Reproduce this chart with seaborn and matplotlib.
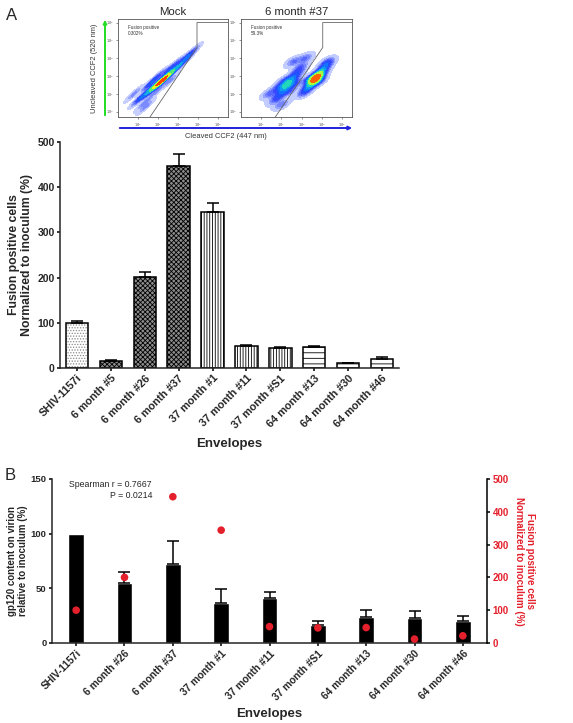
import numpy as np
import pandas as pd
import matplotlib
matplotlib.use("Agg")
import matplotlib.pyplot as plt
import seaborn as sns
from matplotlib.patches import FancyArrowPatch
from matplotlib.colors import LinearSegmentedColormap, to_rgba

# ---------------- data ----------------
envelopes_a = ["SHIV-1157i", "6 month #5", "6 month #26", "6 month #37", "37 month #1",
               "37 month #11", "37 month #S1", "64 month #13", "64 month #30", "64 month #46"]
fusion_mean = [100, 15, 201, 446, 345, 49, 44, 46, 10, 21]
fusion_err = [5, 2, 11, 27, 20, 2, 2, 2, 1, 3]

envelopes_b = ["SHIV-1157i", "6 month #26", "6 month #37", "37 month #1", "37 month #11",
               "37 month #S1", "64 month #13", "64 month #30", "64 month #46"]
gp120_mean = [100, 55, 72, 37, 41, 16.5, 24, 23, 20]
gp120_err = [0, 10, 21, 12, 6, 3.5, 6, 6, 5]
fusion_b = [100, 200, 446, 344, 50, 46, 47, 12, 22]

# flow cytometry population anchors (log10 decades)
mock_x = [1.0, 1.2, 1.5, 1.6, 1.8, 1.9, 2.0, 2.1, 2.15, 2.2, 2.25, 2.3, 2.4, 2.5, 2.7, 2.9,
          3.2, 3.5, 3.75, 1.5, 1.9, 2.4, 2.6, 1.3, 2.0, 2.9, 3.3, 0.8, 1.4, 1.7, 2.6]
mock_y = [0.95, 1.15, 1.3, 1.55, 1.65, 1.8, 1.9, 1.95, 2.0, 2.0, 2.05, 2.1, 2.2, 2.35, 2.5, 2.7,
          3.0, 3.35, 3.7, 1.75, 1.45, 2.55, 2.05, 0.75, 2.3, 3.0, 3.25, 1.3, 0.6, 1.95, 2.6]
m37_x = [1.7, 1.9, 2.1, 2.25, 2.4, 2.6, 2.8, 2.95, 1.9, 2.4, 2.2, 2.7,
         3.1, 3.3, 3.45, 3.6, 3.65, 3.7, 3.72, 3.75, 3.8, 3.9, 4.05, 4.2, 4.3, 3.4, 3.85,
         2.6, 3.2, 1.4, 2.0]
m37_y = [0.95, 1.25, 1.55, 1.75, 1.95, 2.2, 2.5, 2.8, 1.7, 1.45, 2.05, 1.9,
         1.35, 1.6, 1.8, 2.0, 2.1, 2.15, 2.2, 2.25, 2.35, 2.45, 2.65, 2.9, 3.1, 2.1, 2.0,
         3.1, 3.3, 1.3, 0.7]
gate_x = [1.6, 3.95, 3.95, 5.5]
gate_y = [0.0, 3.9, 5.3, 5.3]
gate2_x = [1.7, 4.05, 4.05, 5.5]

# ---------------- style ----------------
sns.set_theme(style="ticks")
plt.rcParams["font.family"] = ["Liberation Sans", "DejaVu Sans"]
plt.rcParams["hatch.linewidth"] = 0.6
plt.rcParams["axes.linewidth"] = 1.1

W, H = 573, 723
fig = plt.figure(figsize=(W / 100, H / 100), dpi=100)


def box(x0, y0, x1, y1):
    return [x0 / W, 1 - y1 / H, (x1 - x0) / W, (y1 - y0) / H]


red = "#e3202b"
flow_cmap = LinearSegmentedColormap.from_list(
    "flow", ["#dfe5ff", "#7d8cff", "#2a3cff", "#0a8cff", "#1fd6c0", "#60f060", "#d8ff30",
             "#ffd000", "#ff4a00", "#c80000"])


def flow(ax, xs, ys, gx, title, pct, bw):
    sns.kdeplot(x=xs, y=ys, ax=ax, fill=True, cmap=flow_cmap, levels=12, thresh=0.02,
                bw_adjust=bw)
    ax.plot(gx, gate_y, color="#666666", lw=0.6)
    ax.set_xlim(0, 5.5)
    ax.set_ylim(0, 5.5)
    ax.set_xticks([1, 2, 3, 4, 5])
    ax.set_yticks([0.3, 1.3, 2.3, 3.3, 4.3, 5.3])
    ax.set_xticklabels([r"$10^1$", r"$10^2$", r"$10^3$", r"$10^4$", r"$10^5$"], fontsize=2.5)
    ax.set_yticklabels([r"$10^0$", r"$10^1$", r"$10^2$", r"$10^3$", r"$10^4$", r"$10^5$"], fontsize=2.5)
    ax.tick_params(length=1.5, width=0.4, pad=1.5, colors="#444444")
    for s in ax.spines.values():
        s.set_linewidth(0.6)
        s.set_color("#555555")
    ax.set_xlabel("")
    ax.set_ylabel("")
    ax.text(0.5, 5.15, "Fusion positive\n" + pct, fontsize=3.3, va="top", ha="left",
            color="#333333", linespacing=1.2)
    ax.set_title(title, fontsize=8.2, pad=3)


ax_m = fig.add_axes(box(118, 19, 228, 117))
flow(ax_m, mock_x, mock_y, gate_x, "Mock", "0.302%", 0.65)
ax_37 = fig.add_axes(box(241, 19, 352, 117))
flow(ax_37, m37_x, m37_y, gate2_x, "6 month #37", "59.3%", 0.55)

fig.add_artist(FancyArrowPatch((105 / W, 1 - 118 / H), (105 / W, 1 - 17 / H),
                               transform=fig.transFigure, arrowstyle="-|>", mutation_scale=5,
                               color="#22dd22", lw=1.4))
fig.add_artist(FancyArrowPatch((117 / W, 1 - 128 / H), (355 / W, 1 - 128 / H),
                               transform=fig.transFigure, arrowstyle="-|>", mutation_scale=5,
                               color="#2020dd", lw=1.4))
fig.text(95 / W, 1 - 68 / H, "Uncleaved CCF2 (520 nm)", rotation=90, ha="center", va="center",
         fontsize=5.4, color="#333333")
fig.text(226 / W, 1 - 137 / H, "Cleaved CCF2 (447 nm)", ha="center", va="center",
         fontsize=5.4, color="#333333")
fig.text(12 / W, 1 - 15 / H, "A", fontsize=12, ha="center", va="center")
fig.text(10 / W, 1 - 475 / H, "B", fontsize=12, ha="center", va="center")

# ---------------- panel A bars ----------------
axA = fig.add_axes(box(60, 142, 399, 368))
dfa = pd.DataFrame({"Envelope": envelopes_a, "Fusion": fusion_mean})
sns.barplot(data=dfa, x="Envelope", y="Fusion", ax=axA, color="white", edgecolor="black",
            linewidth=1.1, width=0.66, errorbar=None, saturation=1)
hatches = ["......", "xxxxxxx", "xxxxxxx", "xxxxxxx", "||||||", "||||||", "||||||", "---", "---", "---"]
faces = ["white", "#8c8c8c", "#8c8c8c", "#8c8c8c", "white", "white", "white", "white", "white", "white"]
for i, (p, h, fc) in enumerate(zip(axA.patches, hatches, faces)):
    p.set_hatch(h)
    p.set_facecolor(fc)
    if i == 0:
        p._hatch_color = to_rgba("#8a8a8a")
axA.errorbar(np.arange(len(envelopes_a)), fusion_mean, yerr=[np.zeros(len(fusion_err)), fusion_err],
             fmt="none", ecolor="black", elinewidth=1.1, capsize=4.5, capthick=1.1)
axA.set_xlim(-0.5, 9.5)
axA.set_ylim(0, 500)
axA.set_yticks([0, 100, 200, 300, 400, 500])
sns.despine(ax=axA)
axA.tick_params(axis="both", length=2.5, width=1.1, color="black", pad=1.2)
axA.set_yticklabels([str(v) for v in [0, 100, 200, 300, 400, 500]], fontsize=7.5, fontweight="bold")
axA.set_xticks(np.arange(len(envelopes_a)))
axA.set_xticklabels(envelopes_a, rotation=45, ha="right", rotation_mode="anchor",
                    fontsize=7.8, fontweight="bold")
axA.set_xlabel("Envelopes", fontsize=9.5, fontweight="bold", labelpad=6)
axA.set_ylabel("Fusion positive cells\nNormalized to inoculum (%)", fontsize=8.8,
               fontweight="bold", labelpad=3)

# ---------------- panel B ----------------
axB = fig.add_axes(box(52, 479, 487, 643))
dfb = pd.DataFrame({"Envelope": envelopes_b, "gp120": gp120_mean, "Fusion": fusion_b,
                    "pos": np.arange(len(envelopes_b))})
sns.barplot(data=dfb, x="Envelope", y="gp120", ax=axB, color="black", width=0.32,
            errorbar=None, saturation=1)
idx = [i for i, e in enumerate(gp120_err) if e > 0]
axB.errorbar(idx, [gp120_mean[i] for i in idx],
             yerr=[np.zeros(len(idx)), [gp120_err[i] for i in idx]],
             fmt="none", ecolor="black", elinewidth=1.1, capsize=4.3, capthick=1.1)
axB.set_ylim(0, 150)
axB.set_yticks([0, 50, 100, 150])
axB.set_yticklabels(["0", "50", "100", "150"], fontsize=6.8, fontweight="bold")
axB.set_xticks(np.arange(len(envelopes_b)))
axB.set_xticklabels(envelopes_b, rotation=45, ha="right", rotation_mode="anchor",
                    fontsize=7.3, fontweight="bold")
axB.tick_params(axis="both", length=2.5, width=1.1, color="black", pad=1.5)
axB.spines["top"].set_visible(False)
axB.spines["right"].set_visible(False)
axB.set_xlabel("Envelopes", fontsize=9.5, fontweight="bold", labelpad=4)
axB.set_ylabel("gp120 content on virion\nrelative to inoculum (%)", fontsize=7,
               fontweight="bold", labelpad=1.5)
axB.text(1.57, 149, "Spearman r = 0.7667\nP = 0.0214", fontsize=6.3, ha="right",
         va="top", multialignment="right", linespacing=1.25)

axB2 = axB.twinx()
sns.scatterplot(data=dfb, x="pos", y="Fusion", ax=axB2, color=red, s=30, edgecolor="none",
                zorder=5, legend=False)
axB2.set_ylim(0, 500)
axB2.set_yticks([0, 100, 200, 300, 400, 500])
axB2.set_yticklabels([str(v) for v in [0, 100, 200, 300, 400, 500]], fontsize=7,
                     fontweight="bold", color=red)
axB2.tick_params(axis="y", length=2.5, width=1.1, color="black", pad=1.5)
for s in ["top", "left", "bottom"]:
    axB2.spines[s].set_visible(False)
axB2.spines["right"].set_linewidth(1.1)
axB2.spines["right"].set_color("black")
axB2.set_ylabel("Fusion positive cells\nNormalized to inoculum (%)", fontsize=7,
                fontweight="bold", color=red, rotation=270, labelpad=19)
axB.set_xlim(-0.5, 8.5)
axB2.set_xlim(-0.5, 8.5)

fig.savefig("out.png", dpi=100)
